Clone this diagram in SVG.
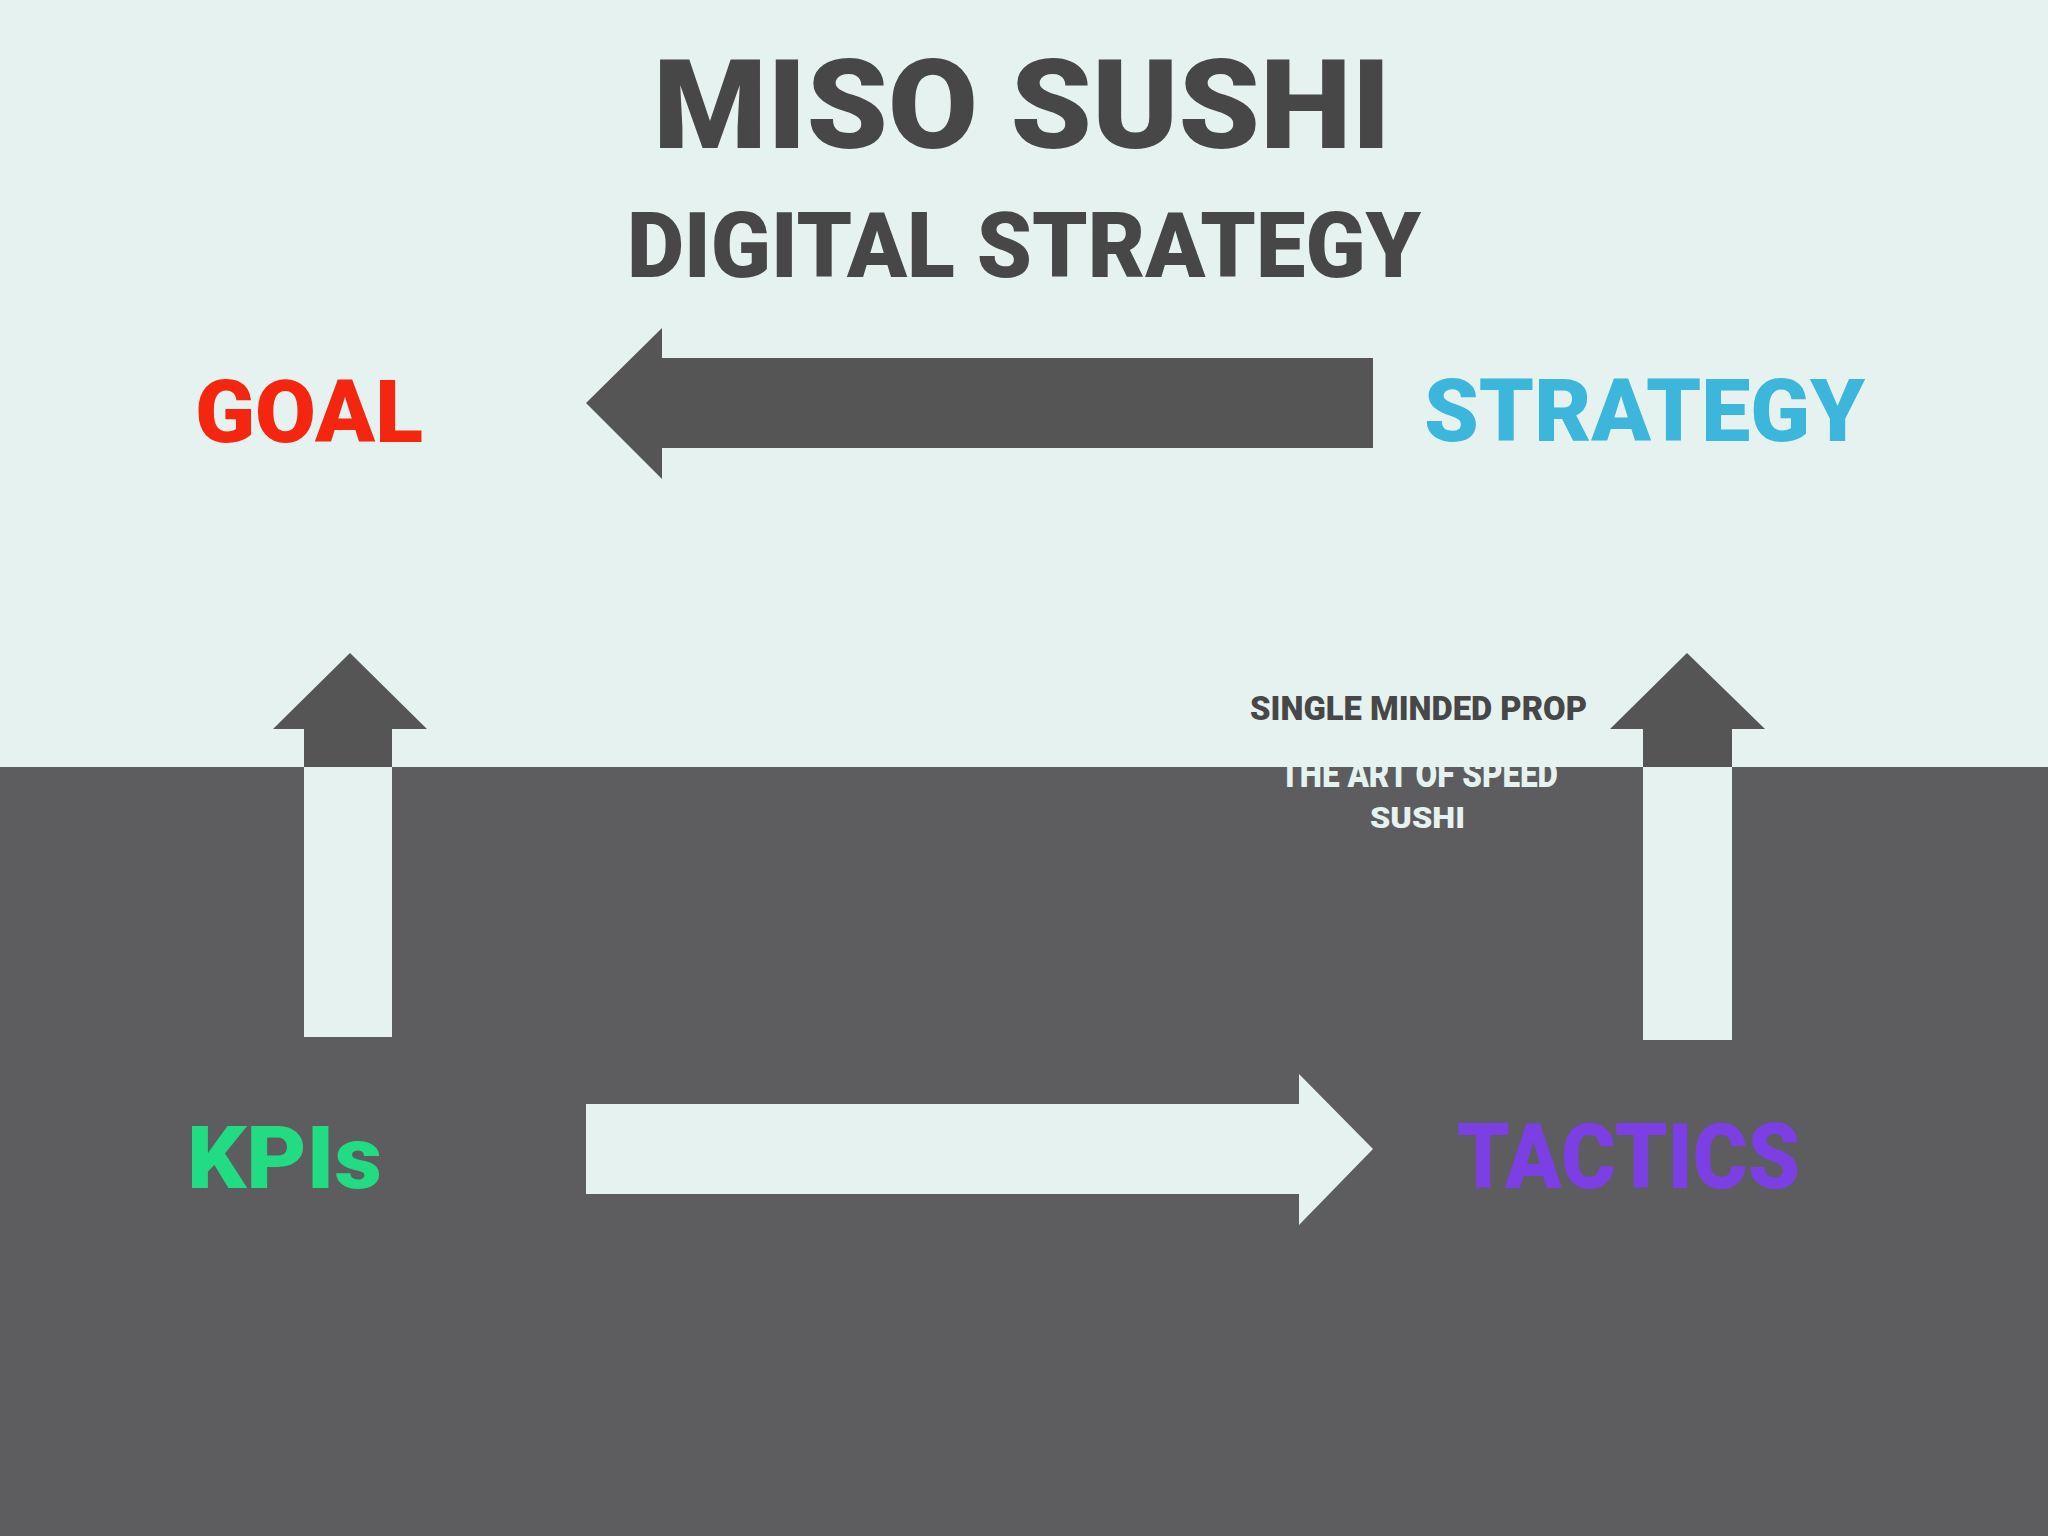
<svg xmlns="http://www.w3.org/2000/svg" width="2048" height="1536" viewBox="0 0 2048 1536">
<style>
text{font-family:Roboto,"Liberation Sans",sans-serif;font-weight:900}
.dk{fill:#555556}
.lt{fill:#e6f2ef}
</style>
<rect x="0" y="0" width="2048" height="767" fill="#e6f2ef"/>
<rect x="0" y="767" width="2048" height="769" fill="#5d5d5f"/>
<g id="title">
<text x="653" y="148" font-size="125" fill="#474747" textLength="738" lengthAdjust="spacingAndGlyphs">MISO SUSHI</text>
<text x="627" y="277" font-size="90" fill="#474747" textLength="794" lengthAdjust="spacingAndGlyphs">DIGITAL STRATEGY</text>
</g>
<g id="connectors">
<polygon class="dk" points="1373,358 662,358 662,328 586,403 662,479 662,448 1373,448"/>
<polygon class="lt" points="586,1104 1299,1104 1299,1074 1373,1149 1299,1225 1299,1194 586,1194"/>
<polygon class="dk" points="350,653 427,729 392,729 392,767 304,767 304,729 273,729"/>
<rect class="lt" x="304" y="767" width="88" height="270"/>
<polygon class="dk" points="1687,653 1765,729 1732,729 1732,767 1643,767 1643,729 1610,729"/>
<rect class="lt" x="1643" y="767" width="89" height="273"/>
</g>
<g id="goal"><text x="195" y="442" font-size="88" fill="#f5260f" textLength="228" lengthAdjust="spacingAndGlyphs">GOAL</text></g>
<g id="strategy"><text x="1424" y="441" font-size="88" fill="#3cb6da" textLength="441" lengthAdjust="spacingAndGlyphs">STRATEGY</text></g>
<g id="kpis"><text x="187" y="1188" font-size="88" fill="#22dc83" textLength="195" lengthAdjust="spacingAndGlyphs">KPIs</text></g>
<g id="tactics"><text x="1457" y="1188" font-size="90" fill="#7b3fe4" textLength="343" lengthAdjust="spacingAndGlyphs">TACTICS</text></g>
<g id="proposition">
<text x="1250" y="720" font-size="33" fill="#474747" textLength="337" lengthAdjust="spacingAndGlyphs">SINGLE MINDED PROP</text>
<text x="1280" y="787" font-size="37" fill="#e6f2ef" textLength="278" lengthAdjust="spacingAndGlyphs">THE ART OF SPEED</text>
<text x="1370" y="828" font-size="30" fill="#e6f2ef" textLength="95" lengthAdjust="spacingAndGlyphs">SUSHI</text>
</g>
</svg>
